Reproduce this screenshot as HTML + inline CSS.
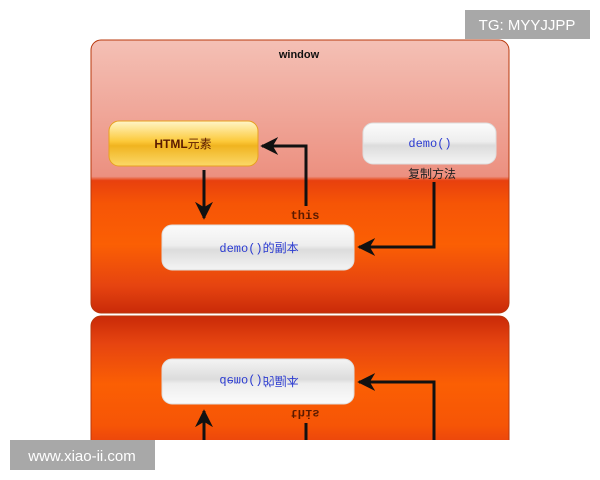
<!DOCTYPE html>
<html><head><meta charset="utf-8"><style>
html,body{margin:0;padding:0;background:#fff;width:600px;height:480px;overflow:hidden}
svg{display:block;overflow:hidden}
</style></head><body>
<svg width="600" height="480" viewBox="0 0 600 480" xmlns="http://www.w3.org/2000/svg">
<defs>
<linearGradient id="bg" x1="0" y1="40" x2="0" y2="313" gradientUnits="userSpaceOnUse">
<stop offset="0" stop-color="#f4c0b5"/>
<stop offset="0.5" stop-color="#ec9080"/>
<stop offset="0.515" stop-color="#e8400e"/>
<stop offset="0.6" stop-color="#f65506"/>
<stop offset="0.75" stop-color="#fb5f04"/>
<stop offset="0.9" stop-color="#e64410"/>
<stop offset="1" stop-color="#c92a08"/>
</linearGradient>
<linearGradient id="gy" x1="0" y1="0" x2="0" y2="1">
<stop offset="0" stop-color="#fff6c8"/>
<stop offset="0.45" stop-color="#fcc93a"/>
<stop offset="0.55" stop-color="#f0b420"/>
<stop offset="1" stop-color="#fbd868"/>
</linearGradient>
<linearGradient id="gw" x1="0" y1="0" x2="0" y2="1">
<stop offset="0" stop-color="#fbfbfb"/>
<stop offset="0.45" stop-color="#eeeeee"/>
<stop offset="0.55" stop-color="#dcdcdc"/>
<stop offset="1" stop-color="#f4f4f4"/>
</linearGradient>
<marker id="ah" viewBox="0 0 10 10" refX="9" refY="5" markerWidth="6" markerHeight="6" orient="auto" markerUnits="strokeWidth">
<path d="M0,0 L10,5 L0,10 L3,5 z" fill="#111"/>
</marker>
<g id="scene">
<rect x="91" y="40" width="418" height="273" rx="10" fill="url(#bg)" stroke="#b8380c" stroke-width="1"/>
<text x="299" y="58" text-anchor="middle" font-family="Liberation Sans, sans-serif" font-size="11" font-weight="bold" fill="#111">window</text>
<rect x="109" y="121" width="149" height="45" rx="10" fill="url(#gy)" stroke="#e8a020"/>
<text x="183" y="148" text-anchor="middle" font-family="Liberation Sans, 'Noto Sans CJK SC', sans-serif" font-size="12" fill="#5a1a00"><tspan font-weight="bold">HTML</tspan>元素</text>
<rect x="363" y="123" width="133" height="41" rx="10" fill="url(#gw)" stroke="#ddd"/>
<text x="430" y="147" text-anchor="middle" font-family="Liberation Mono, monospace" font-size="12" fill="#2a3ad0">demo()</text>
<text x="432" y="178" text-anchor="middle" font-family="Liberation Sans, 'Noto Sans CJK SC', sans-serif" font-size="12" fill="#222">复制方法</text>
<rect x="162" y="225" width="192" height="45" rx="10" fill="url(#gw)" stroke="#ddd"/>
<text x="259" y="252" text-anchor="middle" font-family="Liberation Mono, 'Noto Sans CJK SC', monospace" font-size="12" fill="#2a3ad0">demo()的副本</text>
<text x="305" y="219" text-anchor="middle" font-family="Liberation Mono, monospace" font-size="12" font-weight="bold" fill="#5a1a00">this</text>
<path d="M204,170 V218" stroke="#111" stroke-width="3" fill="none" marker-end="url(#ah)"/>
<path d="M306,206 V146 H262" stroke="#111" stroke-width="3" fill="none" marker-end="url(#ah)"/>
<path d="M434,182 V247 H359" stroke="#111" stroke-width="3" fill="none" marker-end="url(#ah)"/>
</g>
<clipPath id="cp"><rect x="0" y="314" width="600" height="126"/></clipPath>
</defs>
<use href="#scene"/>
<g clip-path="url(#cp)">
<g transform="translate(0,629) scale(1,-1)"><use href="#scene"/></g>
</g>
<rect x="465" y="10" width="125" height="29" fill="#a8a8a8"/>
<text x="527" y="30" text-anchor="middle" font-family="Liberation Sans, sans-serif" font-size="15" fill="#fff">TG: MYYJJPP</text>
<rect x="10" y="440" width="145" height="30" fill="#a8a8a8"/>
<text x="82" y="461" text-anchor="middle" font-family="Liberation Sans, sans-serif" font-size="15" fill="#fff">www.xiao-ii.com</text>
</svg>
</body></html>
